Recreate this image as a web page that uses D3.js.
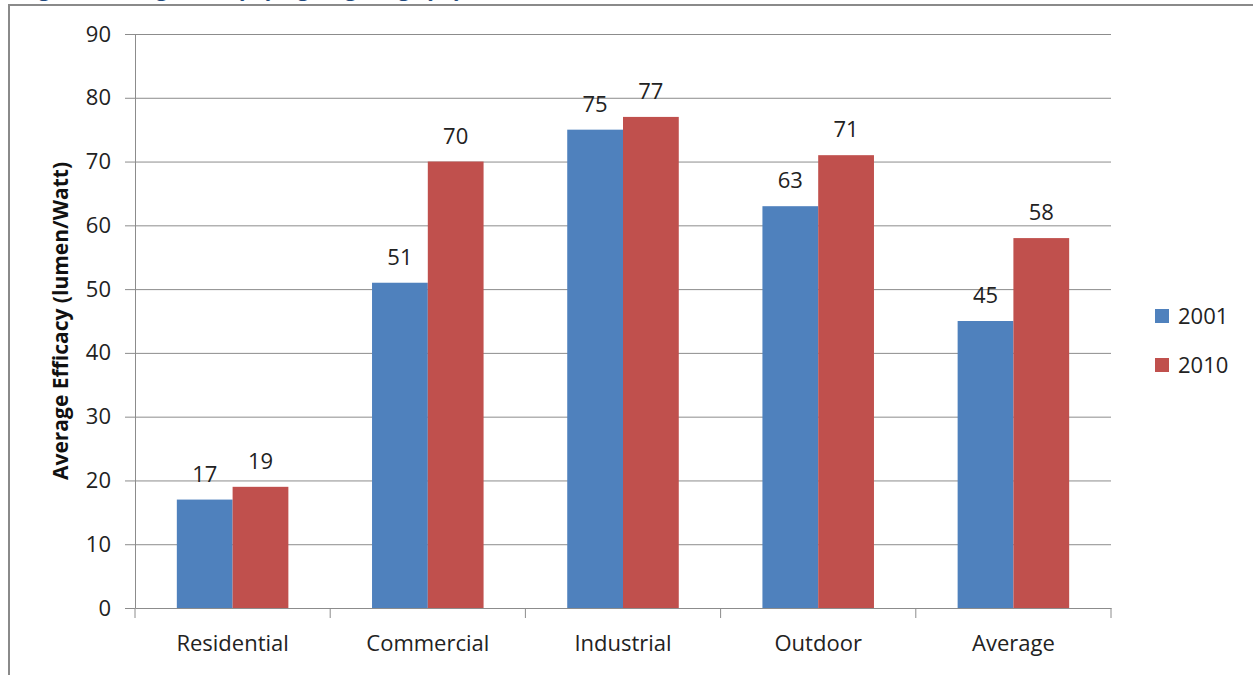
<!DOCTYPE html>
<html>
<head>
<meta charset="utf-8">
<script src="https://cdn.jsdelivr.net/npm/d3@7"></script>
<style>
	body { margin: 0; background: #fff; }
	svg { display: block; }
	.axis text { font-family: "Open Sans", sans-serif; font-size: 22px; fill: #222; }
	.axis path, .axis line { stroke: #8c8c8c; }
	.grid line { stroke: #8c8c8c; }
	.grid path { display: none; }
</style>
</head>
<body>
<svg id="chart" width="1253" height="675"></svg>
<script>
var categories = ["Residential", "Commercial", "Industrial", "Outdoor", "Average"];
var seriesNames = ["2001", "2010"];
var values2001 = [17, 51, 75, 63, 45];
var values2010 = [19, 70, 77, 71, 58];
var yTickValues = [0, 10, 20, 30, 40, 50, 60, 70, 80, 90];
var colors = ["#4f81bd", "#c0504d"];

var svg = d3.select("#chart");

var sizes = {
	left: 135,
	right: 1111,
	top: 34,
	bottom: 608
};

// frame of the embedded picture
svg.append("path")
	.attr("d", "M9,675V5H1253")
	.attr("fill", "none")
	.attr("stroke", "#8a8a8a")
	.attr("stroke-width", 2);

// title, mostly cut off at the top (as in the source picture)
svg.append("text")
	.attr("x", 22)
	.attr("y", -3)
	.attr("font-family", "Cambria, 'DejaVu Serif', serif")
	.attr("font-weight", "bold")
	.attr("font-size", 20)
	.attr("fill", "#1f497d")
	.text("Figure 3: Average Efficacy by Lighting Category by Sector, 2001 and 2010");

var x0 = d3.scaleBand()
	.domain(categories)
	.range([sizes.left, sizes.right]);

var x1 = d3.scaleBand()
	.domain(seriesNames)
	.range([0, x0.bandwidth()])
	.paddingOuter(0.75);

var y = d3.scaleLinear()
	.domain([0, 90])
	.range([sizes.bottom, sizes.top]);

// gridlines
svg.append("g")
	.attr("class", "grid")
	.attr("transform", "translate(" + sizes.left + ",0)")
	.call(d3.axisLeft(y).tickValues(yTickValues.slice(1)).tickSize(-(sizes.right - sizes.left)).tickFormat(""));

// y axis
svg.append("g")
	.attr("class", "axis y")
	.attr("transform", "translate(" + sizes.left + ",0)")
	.call(d3.axisLeft(y).tickValues(yTickValues).tickSize(10).tickPadding(14).tickSizeOuter(0));

// bars
var rows = categories.map(function(c, i) {
	return { cat: c, vals: [values2001[i], values2010[i]] };
});

var groups = svg.append("g").selectAll("g")
	.data(rows)
	.join("g")
	.attr("transform", function(d) { return "translate(" + x0(d.cat) + ",0)"; });

groups.selectAll("rect")
	.data(function(d) { return d.vals.map(function(v, j) { return { key: seriesNames[j], v: v, j: j }; }); })
	.join("rect")
	.attr("x", function(d) { return x1(d.key); })
	.attr("width", x1.bandwidth())
	.attr("y", function(d) { return y(d.v); })
	.attr("height", function(d) { return y(0) - y(d.v); })
	.attr("fill", function(d) { return colors[d.j]; });

groups.selectAll("text")
	.data(function(d) { return d.vals.map(function(v, j) { return { key: seriesNames[j], v: v }; }); })
	.join("text")
	.attr("x", function(d) { return x1(d.key) + x1.bandwidth() / 2; })
	.attr("y", function(d) { return y(d.v) - 18; })
	.attr("text-anchor", "middle")
	.attr("font-family", "Open Sans, sans-serif")
	.attr("font-size", 22)
	.attr("fill", "#222")
	.text(function(d) { return d.v; });

// x axis
var xAxis = svg.append("g")
	.attr("class", "axis x")
	.attr("transform", "translate(0," + sizes.bottom + ")")
	.call(d3.axisBottom(x0).tickSize(0).tickPadding(27).tickSizeOuter(0));

xAxis.selectAll(".sep")
	.data(d3.range(categories.length + 1))
	.join("line")
	.attr("class", "sep")
	.attr("x1", function(i) { return sizes.left + i * x0.step(); })
	.attr("x2", function(i) { return sizes.left + i * x0.step(); })
	.attr("y1", 0)
	.attr("y2", 10);

// y axis title
svg.append("text")
	.attr("transform", "translate(68," + ((sizes.top + sizes.bottom) / 2) + ") rotate(-90)")
	.attr("text-anchor", "middle")
	.attr("font-family", "Open Sans, sans-serif")
	.attr("font-weight", "bold")
	.attr("font-size", 21)
	.attr("fill", "#111")
	.text("Average Efficacy (lumen/Watt)");

// legend
var legend = svg.append("g").selectAll("g")
	.data(seriesNames)
	.join("g")
	.attr("transform", function(d, i) { return "translate(1155," + (309 + i * 49) + ")"; });

legend.append("rect")
	.attr("width", 14)
	.attr("height", 14)
	.attr("fill", function(d, i) { return colors[i]; });

legend.append("text")
	.attr("x", 23)
	.attr("y", 7)
	.attr("dy", "0.35em")
	.attr("font-family", "Open Sans, sans-serif")
	.attr("font-size", 22)
	.attr("fill", "#222")
	.text(function(d) { return d; });
</script>
</body>
</html>
